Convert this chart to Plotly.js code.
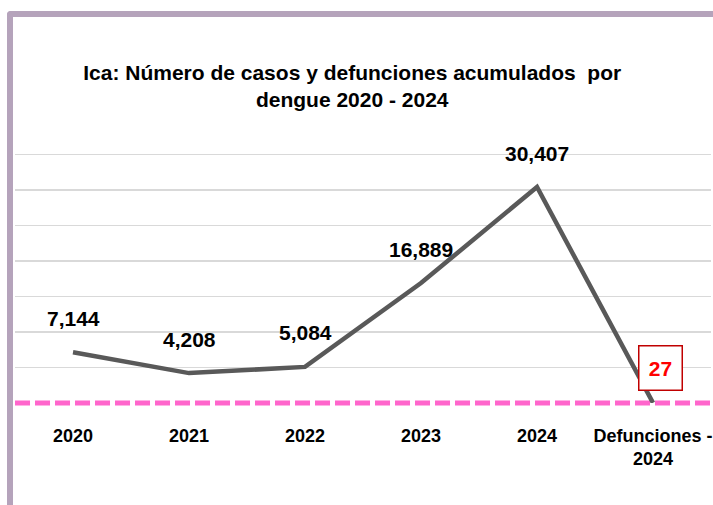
<!DOCTYPE html>
<html>
<head>
<meta charset="utf-8">
<script src="https://cdn.plot.ly/plotly-3.0.1.min.js"></script>
<style>
  html, body { margin: 0; padding: 0; background: #ffffff; }
  #wrap { position: relative; width: 713px; height: 505px; overflow: hidden; }
  #chart { position: absolute; left: 0; top: 0; width: 713px; height: 505px; }
  #frame { position: absolute; left: 7px; top: 11px; width: 720px; height: 520px;
           border-left: 6px solid #b5a3bb; border-top: 6px solid #b5a3bb;
           border-top-left-radius: 4px; pointer-events: none; }
</style>
</head>
<body>
<div id="wrap">
  <div id="chart"></div>
  <div id="frame"></div>
</div>
<script>
const categories = ["2020", "2021", "2022", "2023", "2024", "Defunciones - 2024"];
const tickLabels = ["2020", "2021", "2022", "2023", "2024", "Defunciones -<br>2024"];
const values = [7144, 4208, 5084, 16889, 30407, 27];
const titleText = "Ica: Número de casos y defunciones acumulados  por<br>dengue 2020 - 2024";

const FONT = "'Liberation Sans', Arial, sans-serif";
const fmt = v => v.toLocaleString('en-US');
const idx = categories.map((c, i) => i);

const trace = {
  x: idx,
  y: values,
  type: 'scatter',
  mode: 'lines',
  line: { color: '#595959', width: 4.5 },
  hoverinfo: 'skip'
};

const annotations = values.map((v, i) => {
  const last = i === values.length - 1;
  if (last) {
    return {
      x: idx[i], y: v, xref: 'x', yref: 'y',
      text: '<b>' + fmt(v) + '</b>', showarrow: false,
      xshift: 7, yshift: 35,
      font: { family: FONT, size: 21, color: '#ff0000' },
      bgcolor: '#ffffff', bordercolor: '#c00000', borderwidth: 1.5,
      width: 40, height: 41, borderpad: 1
    };
  }
  return {
    x: idx[i], y: v, xref: 'x', yref: 'y',
    text: '<b>' + fmt(v) + '</b>', showarrow: false,
    yshift: 34,
    font: { family: FONT, size: 21, color: '#000000' }
  };
});

const layout = {
  width: 713, height: 505,
  margin: { l: 15, r: 2, t: 153, b: 102, pad: 0 },
  paper_bgcolor: '#ffffff', plot_bgcolor: '#ffffff',
  showlegend: false,
  title: {
    text: '<b>' + titleText + '</b>',
    font: { family: FONT, size: 21, color: '#000000' },
    xref: 'container', x: 0.494, xanchor: 'center',
    yref: 'container', y: 1 - 80 / 505, yanchor: 'middle'
  },
  xaxis: {
    type: 'linear',
    range: [-0.5, 5.5],
    tickmode: 'array',
    tickvals: idx, ticktext: tickLabels.map(t => '<b>' + t + '</b>'),
    tickfont: { family: FONT, size: 18, color: '#000000' },
    showgrid: false, zeroline: false, showline: false, ticks: '',
    ticklen: 0, tickangle: 0, automargin: false,
    ticklabelstandoff: 20
  },
  yaxis: {
    range: [0, 35200],
    dtick: 5000, tick0: 0,
    showticklabels: false, ticks: '',
    showgrid: true, gridcolor: '#d9d9d9', gridwidth: 1.5,
    zeroline: false, showline: false, fixedrange: true
  },
  shapes: [{
    type: 'line', xref: 'paper', yref: 'paper',
    x0: 0, x1: 1, y0: 0, y1: 0,
    line: { color: '#ff66cc', width: 5, dash: '15px,5px' },
    layer: 'below'
  }],
  annotations: annotations
};

Plotly.newPlot('chart', [trace], layout, { displayModeBar: false, staticPlot: true });
</script>
</body>
</html>
